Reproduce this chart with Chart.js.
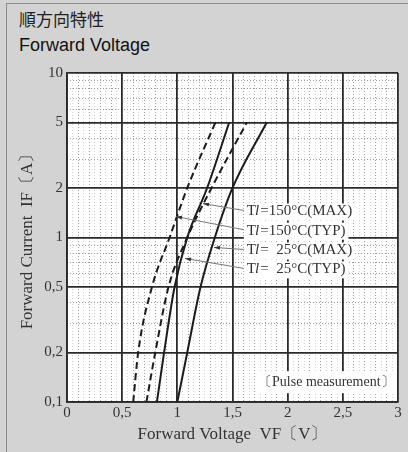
<!DOCTYPE html>
<html>
<head>
<meta charset="utf-8">
<script src="https://cdn.jsdelivr.net/npm/chart.js@4.4.1/dist/chart.umd.min.js"></script>
<style>
  html, body { margin: 0; padding: 0; background: #d3d3d3; }
  #page { position: relative; width: 408px; height: 452px; overflow: hidden; }
  #frame { position: absolute; left: 6px; top: 3px; right: -10px; bottom: -10px;
           border-left: 1px solid #8c8c8c; border-top: 1px solid #8c8c8c; }
  #t1 { position: absolute; left: 19px; top: 8px; font: 17px "Noto Sans CJK JP"; color: #222; line-height: 22px; }
  #t2 { position: absolute; left: 19px; top: 34px; font: 18px "Liberation Sans"; color: #111; line-height: 22px; }
  #wrap { position: absolute; left: 0; top: 60px; width: 408px; height: 392px; }
</style>
</head>
<body>
<div id="page">
  <div id="frame"></div>
  <div id="t1">順方向特性</div>
  <div id="t2">Forward Voltage</div>
  <div id="wrap"><canvas id="ch-vf"></canvas></div>
</div>
<script>
// forward current levels (A) and forward voltage (V)
const currentA = [0.1, 0.2, 0.5, 1, 2, 5];
const vf150Typ = [0.60, 0.645, 0.77, 0.93, 1.09, 1.345];
const vf150Max = [0.815, 0.88, 0.975, 1.09, 1.27, 1.47];
const vf25Typ  = [0.72, 0.80, 0.92, 1.09, 1.31, 1.63];
const vf25Max  = [1.00, 1.09, 1.21, 1.34, 1.50, 1.81];

const xMajor = [0, 0.5, 1, 1.5, 2, 2.5, 3];
const xLabels = ["0", "0,5", "1", "1,5", "2", "2,5", "3"];
const yMajor = [0.1, 0.2, 0.5, 1, 2, 5, 10];
const yLabels = ["0,1", "0,2", "0,5", "1", "2", "5", "10"];
const yMinor = [0.3, 0.4, 0.6, 0.7, 0.8, 0.9, 3, 4, 6, 7, 8, 9];

// curve labels with leader arrows
const legendText = ["=150°C(MAX)", "=150°C(TYP)", "=  25°C(MAX)", "=  25°C(TYP)"];
const legendAtV = 1.63;
const legendAtI = [1.44, 1.10, 0.834, 0.64];
const arrowTipV = [1.233, 0.988, 1.332, 1.07];
const arrowTipI = [1.607, 1.34, 0.87, 0.746];
const pulseNote = "〔Pulse measurement〕";
const pulseAtV = 2.35, pulseAtI = 0.132;

const pts = vf => currentA.map((c, i) => ({ x: vf[i], y: c }));

// 0.1 V and 0.05 V minor grid positions (skip the 0.5 V majors)
const xMinor = [], xFine = [];
for (let k = 1; k < 60; k++) {
  if (k % 10 === 0) continue;
  (k % 2 === 0 ? xMinor : xFine).push(k / 20);
}

const SERIF = "'Liberation Serif', 'DejaVu Serif', serif";
const INK = "#1c1c1c";

const notes = {
  id: "notes",
  beforeDraw(chart) {
    const { ctx, chartArea: a } = chart;
    ctx.save();
    ctx.fillStyle = "#fff";
    ctx.fillRect(a.left, a.top, a.right - a.left, a.bottom - a.top);
    ctx.restore();
  },
  afterDatasetsDraw(chart) {
    const { ctx, scales: { x, y } } = chart;
    ctx.save();
    ctx.textBaseline = "middle";
    legendText.forEach((t, i) => {
      const lx = x.getPixelForValue(legendAtV), ly = y.getPixelForValue(legendAtI[i]);
      ctx.font = "15px " + SERIF;
      const wT = ctx.measureText("T").width;
      const wr = ctx.measureText(t).width;
      ctx.font = "italic 15px " + SERIF;
      const wl = ctx.measureText("l").width;
      ctx.fillStyle = "#fff";
      ctx.fillRect(lx - 3, ly - 8, wT + wl + wr + 6, 17);
      ctx.fillStyle = "#333";
      ctx.font = "15px " + SERIF;
      ctx.fillText("T", lx, ly);
      ctx.font = "italic 15px " + SERIF;
      ctx.fillText("l", lx + wT - 1, ly);
      ctx.font = "15px " + SERIF;
      ctx.fillText(t, lx + wT + wl, ly);
      // leader line to the curve
      const tx = x.getPixelForValue(arrowTipV[i]), ty = y.getPixelForValue(arrowTipI[i]);
      const sx = lx - 3, sy = ly - 1;
      ctx.strokeStyle = "#777";
      ctx.lineWidth = 1;
      ctx.beginPath(); ctx.moveTo(sx, sy); ctx.lineTo(tx, ty); ctx.stroke();
      const ang = Math.atan2(ty - sy, tx - sx);
      ctx.fillStyle = "#333";
      ctx.beginPath();
      ctx.moveTo(tx, ty);
      ctx.lineTo(tx - 6 * Math.cos(ang) + 2 * Math.sin(ang), ty - 6 * Math.sin(ang) - 2 * Math.cos(ang));
      ctx.lineTo(tx - 6 * Math.cos(ang) - 2 * Math.sin(ang), ty - 6 * Math.sin(ang) + 2 * Math.cos(ang));
      ctx.closePath(); ctx.fill();
    });
    // pulse note
    const px = x.getPixelForValue(pulseAtV), py = y.getPixelForValue(pulseAtI);
    ctx.font = "14px " + SERIF;
    const w = ctx.measureText(pulseNote).width;
    ctx.fillStyle = "#fff";
    ctx.fillRect(px - w / 2 - 2, py - 11, w + 4, 22);
    ctx.fillStyle = "#333";
    ctx.textAlign = "center";
    ctx.fillText(pulseNote, px, py);
    ctx.restore();
  }
};

const curve = (label, vf, dashed) => ({
  label,
  data: pts(vf),
  borderColor: INK,
  borderWidth: 2,
  borderDash: dashed ? [7, 4] : [],
  pointRadius: 0,
  cubicInterpolationMode: "monotone",
  fill: false
});

const minorX = (list, color) => ({
  type: "linear", position: "bottom", min: 0, max: 3,
  afterBuildTicks: s => { s.ticks = list.map(v => ({ value: v })); },
  afterFit: s => { s.height = 0; },
  ticks: { display: false },
  grid: { color, lineWidth: 1, drawTicks: false },
  border: { display: false, dash: [1, 2] }
});

new Chart(document.getElementById("ch-vf"), {
  type: "line",
  data: {
    datasets: [
      curve("Tl=150°C(TYP)", vf150Typ, true),
      curve("Tl=150°C(MAX)", vf150Max, false),
      curve("Tl=25°C(TYP)", vf25Typ, true),
      curve("Tl=25°C(MAX)", vf25Max, false)
    ]
  },
  options: {
    responsive: true,
    maintainAspectRatio: false,
    animation: false,
    layout: { padding: { left: 0, right: 10, top: 12, bottom: 0 } },
    plugins: { legend: { display: false }, tooltip: { enabled: false } },
    scales: {
      xFine: minorX(xFine, "#d2d2d2"),
      xMinor: minorX(xMinor, "#a0a0a0"),
      yMinor: {
        type: "logarithmic", position: "left", min: 0.1, max: 10,
        afterBuildTicks: s => { s.ticks = yMinor.map(v => ({ value: v })); },
        afterFit: s => { s.width = 0; },
        ticks: { display: false },
        grid: { color: "#9a9a9a", lineWidth: 1, drawTicks: false },
        border: { display: false, dash: [1, 2] }
      },
      x: {
        type: "linear", position: "bottom", min: 0, max: 3,
        afterBuildTicks: s => { s.ticks = xMajor.map(v => ({ value: v })); },
        afterFit: s => { s.height = 50; },
        ticks: {
          autoSkip: false, maxRotation: 0, padding: 2, color: "#333",
          font: { family: SERIF, size: 15 },
          callback: (v, i) => xLabels[i]
        },
        grid: { color: "#2a2a2a", lineWidth: 1.8, drawTicks: false },
        border: { display: true, color: "#2a2a2a", width: 1.8 },
        title: {
          display: true, text: "Forward Voltage  VF〔V〕", color: "#333",
          font: { family: SERIF, size: 17 }, padding: { top: 0, bottom: 7 }
        }
      },
      y: {
        type: "logarithmic", position: "left", min: 0.1, max: 10,
        afterBuildTicks: s => { s.ticks = yMajor.map(v => ({ value: v })); },
        afterFit: s => { s.width = 67; },
        ticks: {
          autoSkip: false, padding: 4, color: "#333",
          font: { family: SERIF, size: 15 },
          callback: (v, i) => yLabels[i]
        },
        grid: { color: "#2a2a2a", lineWidth: 1.8, drawTicks: false },
        border: { display: true, color: "#2a2a2a", width: 1.8 },
        title: {
          display: true, text: "Forward Current  IF〔A〕", color: "#333",
          font: { family: SERIF, size: 17 }, padding: { top: 17, bottom: 0 }
        }
      }
    }
  },
  plugins: [notes]
});
</script>
</body>
</html>
